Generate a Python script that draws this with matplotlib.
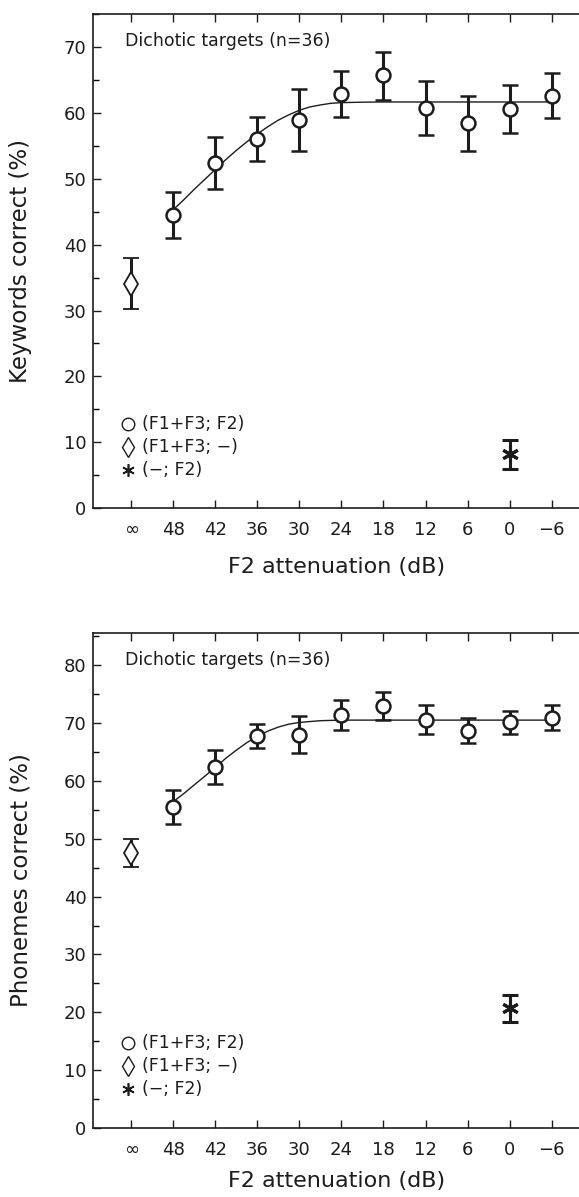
import matplotlib
matplotlib.use("Agg")
import matplotlib.pyplot as plt
from matplotlib.ticker import MultipleLocator

# x positions are category slots: infinity, 48 ... -6 dB
tick_labels = ['\u221e', '48', '42', '36', '30', '24', '18', '12', '6', '0', '\u22126']
slot = list(range(len(tick_labels)))
atten_slots = slot[1:]

# keywords panel
kw_mean = [44.5, 52.4, 56.1, 58.9, 62.8, 65.7, 60.7, 58.4, 60.6, 62.6]
kw_hi = [48.0, 56.4, 59.4, 63.6, 66.4, 69.3, 64.8, 62.5, 64.2, 66.0]
kw_lo = [41.0, 48.4, 52.7, 54.2, 59.3, 61.9, 56.6, 54.2, 57.0, 59.2]
kw_f1f3 = (34.1, 38.0, 30.2)   # mean, hi, lo at infinity
kw_f2 = (8.2, 10.3, 5.9)       # mean, hi, lo at 0 dB
kw_fit_x = [1, 1.25, 1.5, 1.75, 2, 2.25, 2.5, 2.75, 3, 3.25, 3.5, 3.75, 4, 4.25, 4.5, 4.75, 5, 5.5, 6, 10]
kw_fit_y = [45.3, 46.8, 48.4, 49.9, 51.4, 52.9, 54.3, 55.6, 56.8, 57.9, 58.9, 59.7, 60.4, 60.9,
            61.2, 61.45, 61.55, 61.62, 61.65, 61.65]

# phonemes panel
ph_mean = [55.5, 62.4, 67.8, 68.0, 71.4, 72.9, 70.6, 68.7, 70.1, 70.9]
ph_hi = [58.5, 65.3, 69.9, 71.2, 74.0, 75.3, 73.1, 70.8, 72.1, 73.1]
ph_lo = [52.5, 59.5, 65.7, 64.8, 68.8, 70.5, 68.1, 66.5, 68.1, 68.8]
ph_f1f3 = (47.6, 50.0, 45.1)
ph_f2 = (20.7, 23.0, 18.4)
ph_fit_x = [1, 1.25, 1.5, 1.75, 2, 2.25, 2.5, 2.75, 3, 3.25, 3.5, 3.75, 4, 4.5, 5, 10]
ph_fit_y = [56.4, 57.8, 59.3, 60.8, 62.3, 63.9, 65.3, 66.6, 67.7, 68.6, 69.3, 69.8, 70.1, 70.4,
            70.5, 70.5]

legend_labels = ['(F1+F3; F2)', '(F1+F3; \u2212)', '(\u2212; F2)']
note = 'Dichotic targets (n=36)'

INK = '#1c1c1c'
plt.rcParams['font.family'] = ['DejaVu Sans']

ASTER = (6, 2, 0)


def draw_panel(ax, mean, hi, lo, f1f3, f2, fit_x, fit_y, ytop, ylabel, leg_y, xlab_y):
    err = [[m - l for m, l in zip(mean, lo)], [h - m for h, m in zip(hi, mean)]]
    ax.plot(fit_x, fit_y, color=INK, lw=1.0, zorder=2)
    ax.errorbar(atten_slots, mean, yerr=err, fmt='o', ms=10, mfc='white', mec=INK, mew=1.8,
                ecolor=INK, elinewidth=2.2, capsize=5.5, capthick=2.2, zorder=3)
    ax.errorbar([slot[0]], [f1f3[0]], yerr=[[f1f3[0] - f1f3[2]], [f1f3[1] - f1f3[0]]], fmt='d',
                ms=12, mfc='white', mec=INK, mew=1.3, ecolor=INK, elinewidth=2.2,
                capsize=5.5, capthick=2.2, zorder=3)
    ax.errorbar([slot[9]], [f2[0]], yerr=[[f2[0] - f2[2]], [f2[1] - f2[0]]], fmt='none',
                ecolor=INK, elinewidth=2.2, capsize=5.5, capthick=2.2, zorder=3)
    ax.plot([slot[9]], [f2[0]], marker=ASTER, ms=12, mec=INK, mew=2.2, ls='none', zorder=4)

    ax.set_xlim(-0.9, 10.65)
    ax.set_ylim(0, ytop)
    ax.set_xticks(slot)
    ax.set_xticklabels(tick_labels)
    ax.yaxis.set_major_locator(MultipleLocator(10))
    ax.yaxis.set_minor_locator(MultipleLocator(5))
    ax.tick_params(axis='x', direction='in', top=True, length=6, width=1.0, pad=9,
                   labelsize=13, colors=INK)
    ax.tick_params(axis='y', which='major', direction='in', length=6, width=1.0, pad=5,
                   labelsize=13, colors=INK)
    ax.tick_params(axis='y', which='minor', direction='in', length=4, width=1.0)
    for side in ['left', 'bottom', 'top']:
        ax.spines[side].set_linewidth(1.2)
        ax.spines[side].set_color(INK)
    ax.spines['right'].set_visible(False)

    ax.set_xlabel('F2 attenuation (dB)', fontsize=16, color=INK)
    ax.set_ylabel(ylabel, fontsize=16.5, color=INK)
    ax.xaxis.set_label_coords(0.5, xlab_y)
    ax.yaxis.set_label_coords(-0.126, 0.5)

    ax.text(0.065, 0.945, note, transform=ax.transAxes, fontsize=12.5, color=INK,
            ha='left', va='center')

    marks = [dict(marker='o', ms=9, mfc='white', mew=1.0),
             dict(marker='d', ms=10, mfc='white', mew=1.0),
             dict(marker=ASTER, ms=9, mew=1.2)]
    for i, (lab, mk) in enumerate(zip(legend_labels, marks)):
        yy = leg_y - i * 0.047
        ax.plot([0.071], [yy], transform=ax.transAxes, mec=INK, color=INK, ls='none',
                clip_on=False, **mk)
        ax.text(0.101, yy, lab, transform=ax.transAxes, fontsize=12.5, color=INK,
                ha='left', va='center')


fig = plt.figure(figsize=(5.79, 11.97), dpi=100)
ax1 = fig.add_axes([0.1612, 0.5754, 0.8388, 0.4129])
ax2 = fig.add_axes([0.1612, 0.0576, 0.8388, 0.4138])

draw_panel(ax1, kw_mean, kw_hi, kw_lo, kw_f1f3, kw_f2, kw_fit_x, kw_fit_y, 75,
           'Keywords correct (%)', 0.171, -0.098)
draw_panel(ax2, ph_mean, ph_hi, ph_lo, ph_f1f3, ph_f2, ph_fit_x, ph_fit_y, 85.6,
           'Phonemes correct (%)', 0.172, -0.086)

fig.savefig('out.png', dpi=100, facecolor='white')
